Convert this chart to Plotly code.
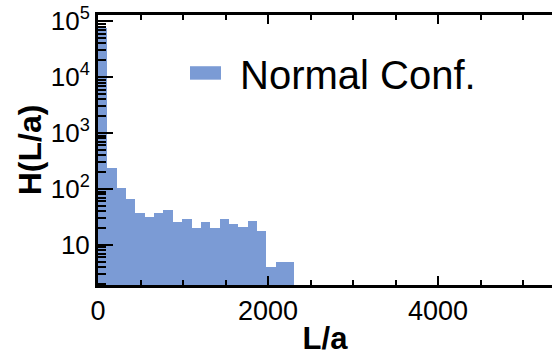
import numpy as np
import plotly.graph_objects as go

# ---- data ----
bin_width = 110
bin_left = [i * bin_width for i in range(21)]
counts = [77000, 236, 103, 67, 37, 32, 37, 42, 26, 29, 20, 26, 20, 29, 24, 21, 27, 18, 4, 5, 5]
series_name = "Normal Conf."
x_tickvals = [0, 2000, 4000]
x_ticktext = ["0", "2000", "4000"]
y_tickvals = [10, 100, 1000, 10000, 100000]
y_ticktext = ["10", "10<sup>2</sup>", "10<sup>3</sup>", "10<sup>4</sup>", "10<sup>5</sup>"]

bar_color = "#7b9bd5"
font_family = "Liberation Sans, Arial, sans-serif"

centers = [b + bin_width / 2 for b in bin_left]

fig = go.Figure()
fig.add_trace(go.Bar(
    x=centers, y=counts, width=bin_width,
    marker=dict(color=bar_color, line=dict(width=0)),
    name=series_name, showlegend=False,
))

minor_y = [m * 10 ** k for k in range(0, 6) for m in range(2, 10)]

fig.update_layout(
    width=552, height=356,
    margin=dict(l=98, r=0, t=15, b=60),
    paper_bgcolor="white", plot_bgcolor="white",
    bargap=0,
    font=dict(family=font_family, color="black"),
    xaxis=dict(
        range=[0, 5341],
        tickmode="array", tickvals=x_tickvals, ticktext=x_ticktext,
        ticks="inside", ticklen=9, tickwidth=2, tickcolor="black",
        minor=dict(dtick=500, ticks="inside", ticklen=5, tickwidth=1.5, tickcolor="black"),
        showline=True, linewidth=3, linecolor="black", mirror="ticks",
        showgrid=False, zeroline=False,
        tickfont=dict(size=27, family=font_family, color="black"),
        title=dict(text="<b>L/a</b>", font=dict(size=31, family=font_family, color="black"), standoff=8),
    ),
    yaxis=dict(
        type="log", range=[0.283, 5.11],
        tickmode="array", tickvals=y_tickvals, ticktext=y_ticktext,
        ticks="inside", ticklen=15, tickwidth=2, tickcolor="black",
        minor=dict(tickmode="array", tickvals=minor_y, ticks="inside", ticklen=8, tickwidth=2, tickcolor="black"),
        showline=True, linewidth=3, linecolor="black", mirror=False,
        showgrid=False, zeroline=False,
        tickfont=dict(size=26, family=font_family, color="black"),
        title=dict(text="<b>H(L/a)</b>", font=dict(size=32, family=font_family, color="black"), standoff=0),
    ),
)

# legend drawn as swatch + label
fig.add_shape(type="rect", xref="paper", yref="paper",
              x0=0.2026, x1=0.2709, y0=0.7605, y1=0.8103,
              fillcolor=bar_color, line=dict(width=0))
fig.add_annotation(xref="paper", yref="paper", x=0.3084, y=0.779,
                   xanchor="left", yanchor="middle", showarrow=False,
                   text=series_name, font=dict(size=40, family=font_family, color="black"))

fig.write_html("out.html")
